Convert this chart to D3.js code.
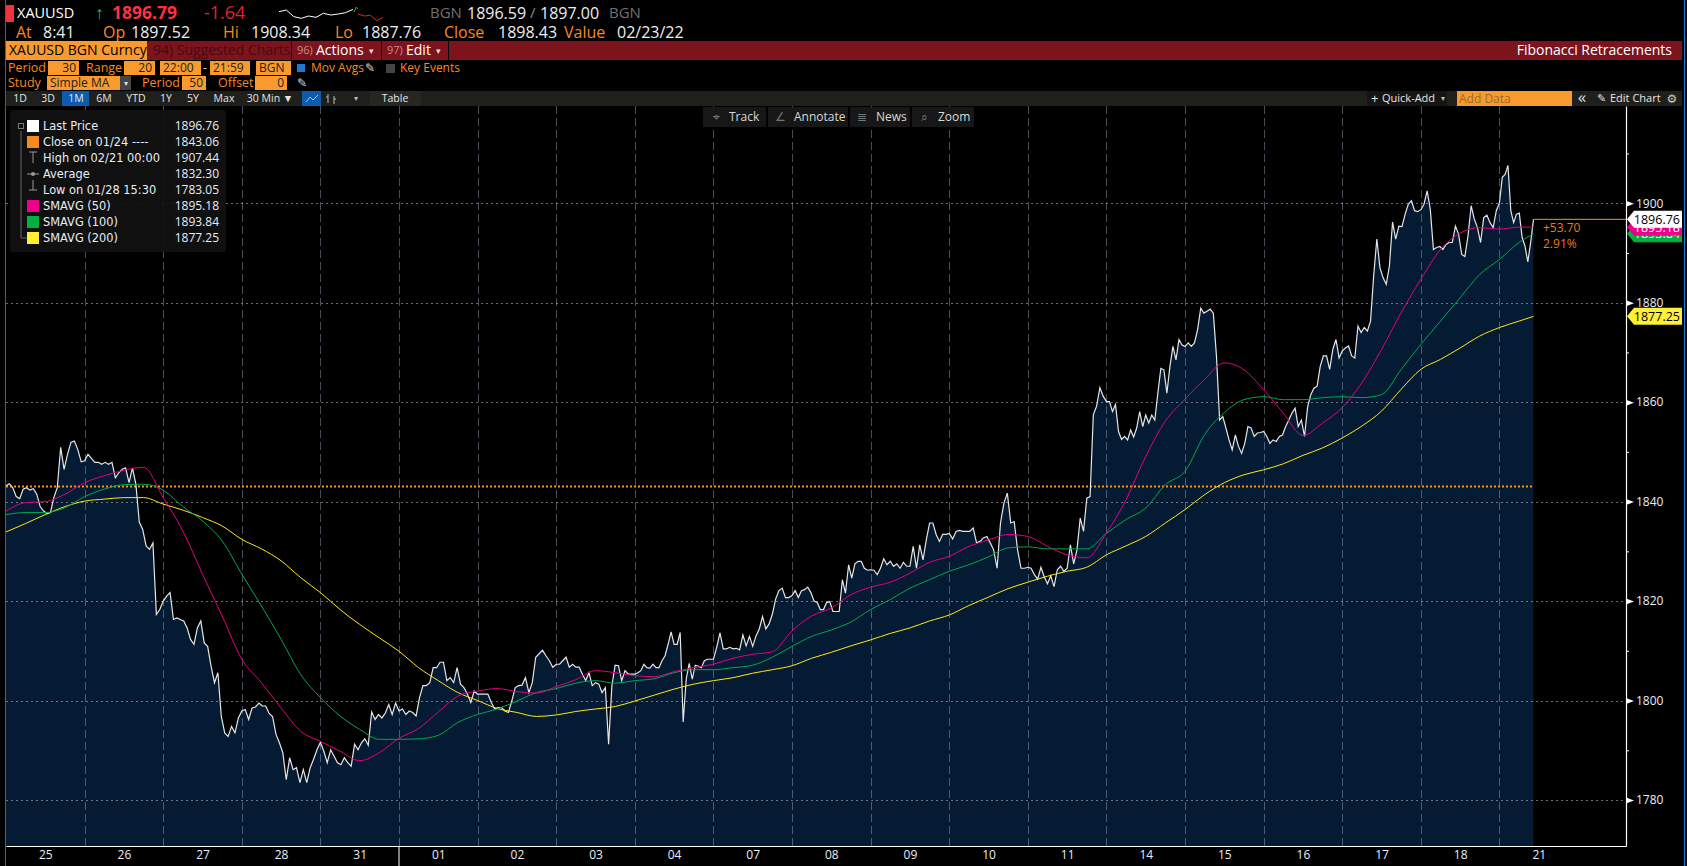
<!DOCTYPE html>
<html><head><meta charset="utf-8">
<script src="https://cdnjs.cloudflare.com/ajax/libs/d3/7.8.5/d3.min.js"></script>
<style>html,body{margin:0;padding:0;background:#000;overflow:hidden}svg{display:block}text{font-family:"Open Sans","Noto Sans",sans-serif;white-space:pre}</style>
</head><body><svg id="c" width="1687" height="866"></svg>
<script>
// ---- data: 30-minute closes, one list per trading session
const jan25=[1843.2,1843.6,1842.8,1841.0,1840.6,1842.5,1842.8,1842.3,1842.6,1841.5,1839.0,1838.1,1837.6,1837.8,1840.8,1842.8,1850.9,1846.5,1849.5,1851.9,1852.2,1850.5,1848.0];
const jan26=[1848.2,1849.5,1848.7,1847.9,1847.9,1847.5,1847.9,1847.5,1847.9,1844.8,1845.8,1846.5,1846.8,1843.8,1846.8,1843.5,1835.9,1834.4,1831.1,1830.4,1831.7,1817.3,1818.3];
const jan27=[1820.0,1821.0,1821.7,1816.3,1816.6,1816.3,1816.0,1814.6,1812.3,1811.3,1814.6,1816.0,1811.6,1810.9,1806.9,1803.6,1805.6,1796.8,1793.5,1792.8,1794.8,1793.5,1796.5];
const jan28=[1797.9,1798.2,1796.2,1798.5,1798.7,1799.5,1798.9,1798.9,1797.4,1796.8,1793.2,1791.5,1789.5,1784.1,1788.5,1786.1,1786.5,1783.5,1786.1,1783.5,1786.5,1788.2,1790.1];
const jan31=[1791.6,1789.8,1787.5,1790.1,1788.8,1787.5,1787.1,1788.5,1787.5,1786.8,1791.2,1790.1,1791.5,1792.3,1791.0,1797.7,1796.2,1797.2,1796.5,1797.5,1799.2,1797.2,1799.5];
const feb01=[1797.9,1798.3,1797.2,1797.9,1797.6,1796.9,1800.6,1803.0,1803.0,1803.6,1806.6,1806.6,1807.7,1807.7,1804.0,1804.6,1803.6,1806.6,1803.3,1802.6,1801.3,1799.6,1801.9];
const feb02=[1801.3,1801.3,1801.3,1801.3,1799.6,1798.3,1798.6,1798.6,1797.9,1797.6,1799.9,1802.6,1803.0,1803.1,1804.6,1801.6,1803.6,1808.7,1809.4,1810.1,1809.0,1808.0,1806.7];
const feb03=[1807.3,1807.3,1808,1808.7,1806.7,1807.3,1806.7,1806.7,1805.3,1804,1805.6,1803,1803.6,1803.3,1801.6,1802.6,1791.2,1803,1807.1,1807,1804,1806,1805.3,1805.3];
const feb04=[1805.3,1805.6,1806,1807.3,1806.6,1806.5,1807.3,1806.6,1806.6,1808,1809,1811.3,1813.8,1811.3,1811.3,1813.7,1795.7,1804.3,1807.5,1804.3,1807.1,1806.9,1806.6,1808,1808.3,1808.3];
const feb07=[1808.3,1810.7,1813.6,1810.4,1810.4,1810.7,1810.4,1810.5,1810.2,1813.2,1811,1812.9,1810.9,1813,1814.4,1816.9,1814.4,1815.4,1817.4,1820.4,1822.1,1822.6,1820.7,1820.7];
const feb08=[1821.1,1822.1,1820.7,1822.1,1822.3,1822.8,1821.7,1820,1819.7,1818.3,1818.3,1819.7,1819.9,1817.9,1817.9,1817.9,1824.3,1821.6,1827.3,1824.6,1827.5,1828,1828,1826.6,1826.2];
const feb09=[1826.3,1826.2,1825.3,1826.6,1828.5,1827.3,1828,1827,1827.5,1826.6,1827.8,1827,1827,1831,1826.6,1831.3,1828.3,1832.3,1835.7,1835.7,1833.4,1832,1833.4,1833.4];
const feb10=[1833.6,1832.5,1834,1834.2,1834,1834,1834,1834.7,1831.7,1832,1832.7,1833,1831.7,1830.3,1826.6,1835.7,1839.7,1841.7,1835.7,1836,1830.3,1826.6,1826.6];
const feb11=[1826.8,1826.6,1825.3,1824.4,1826.8,1824.9,1823.5,1825.1,1822.9,1826.3,1827,1826,1826.6,1831.3,1827.5,1830.3,1836.7,1834,1840.7,1841,1857.5,1859.2,1862.9,1861.2];
const feb14=[1860.1,1860.1,1858.1,1859.5,1854.1,1852.5,1853.1,1852.4,1854.4,1853,1854.8,1858.1,1855.1,1857.4,1855.8,1857.4,1856.4,1861.8,1866.8,1866.5,1861.8,1867.2,1871.2,1868.5,1872.6,1871.5];
const feb15=[1871.2,1871.9,1871.2,1871.9,1874.6,1878.9,1877.9,1878.3,1878.7,1877.9,1869.2,1856.4,1857.1,1854.8,1852.4,1850.4,1853.4,1851.1,1849.7,1851.7,1855.1,1854.8,1853.1,1853.8,1853.9];
const feb16=[1854.1,1853.1,1851.7,1852.4,1852.1,1853.1,1853.4,1855.1,1856.4,1857.8,1858.8,1855.1,1856.4,1853.1,1859.1,1861.5,1862.8,1863.2,1867.2,1869.3,1869.3,1866.6,1870.6,1872.6,1868.9];
const feb17=[1870.3,1870.9,1871.3,1869.3,1868.9,1875.3,1874,1875,1874.3,1876.3,1885.4,1892.8,1887,1885,1883.7,1887.4,1896.2,1892.8,1895.4,1895.3,1897.8,1899.8,1900.5,1898.5,1898.3];
const feb18=[1898.7,1899.8,1902.5,1898.8,1890.7,1891.1,1891.3,1890.7,1891.7,1892.1,1892.1,1895.4,1893.8,1889.7,1889.3,1893.4,1899.5,1896.8,1895.1,1892.1,1897.1,1897.6,1896.1,1895.1,1898.5];
const feb21=[1900.1,1905.2,1905.8,1907.6,1898.5,1896.1,1897.8,1898,1893.1,1891.4,1888.2,1892.1,1896.76];
const sessionLists=[jan25,jan26,jan27,jan28,jan31,feb01,feb02,feb03,feb04,feb07,feb08,feb09,feb10,feb11,feb14,feb15,feb16,feb17,feb18,feb21];
const dayLabels=["25","26","27","28","31","01","02","03","04","07","08","09","10","11","14","15","16","17","18","21"];
const lastSessionSpan=0.433;
// moving averages, one reading every quarter of a session
const sma50=[1838.1,1839.8,1840,1841.5,1843.8,1845.2,1846.3,1846.9,1840.8,1834.1,1825.4,1817,1808.3,1803.6,1798.5,1793.8,1791.8,1789.8,1787.9,1789.5,1792.4,1794.4,1797.7,1800.9,1801.9,1802.4,1801.8,1801.5,1802.8,1804.2,1806,1805.6,1805,1804.8,1805.8,1806.6,1807.3,1808.5,1809.3,1809.8,1814,1817,1818.6,1821.3,1822.8,1823.8,1825.6,1827.8,1829,1831,1832.3,1833.4,1833,1831,1829.3,1828.7,1833.7,1840.4,1849.1,1856.2,1860.6,1864.6,1867.9,1866.5,1862.5,1857.8,1853.3,1855.8,1858.9,1863.9,1870.6,1878,1884.7,1890.7,1894,1895.1,1894.8,1895.2,1895.18];
const sma100=[1837.4,1837.8,1837.8,1838.8,1841,1842.5,1843.4,1843.5,1842.3,1839,1836.1,1832.1,1825.4,1819,1812.3,1805.2,1800.6,1796.9,1794.2,1792.2,1792.2,1792.3,1793,1795.6,1797.2,1798.3,1799.9,1801.6,1802.4,1803.5,1804,1803.5,1804,1804.4,1805.6,1806.2,1806.2,1806.6,1807.1,1808.7,1810.9,1812.9,1814.2,1815.8,1818.3,1820.3,1822.6,1824.3,1826,1827.3,1828.9,1830.7,1830.9,1830.5,1830.5,1830.5,1833.6,1836.4,1838.7,1843.4,1846.1,1853.5,1857.9,1860.5,1861.1,1860.5,1860.5,1860.9,1861.1,1860.9,1861.5,1866.6,1871.6,1876.3,1881,1885.7,1888.7,1892.1,1893.84];
const sma200=[1833.9,1835.6,1837.4,1839,1840.1,1840.5,1840.8,1840.8,1839.5,1838.3,1836.8,1835.1,1832.4,1830.5,1828.1,1824.7,1821.7,1818.3,1815.3,1812.6,1809.9,1806.6,1804,1801.6,1800,1798.4,1797.6,1796.8,1797.1,1797.8,1798.3,1798.8,1799.9,1801.1,1802.3,1803.3,1804,1804.6,1805.5,1806.2,1807,1808.5,1809.7,1811,1812.2,1813.5,1814.6,1816,1817.2,1819.1,1820.8,1822.5,1823.8,1825,1826,1826.8,1829.3,1831.1,1833,1835.7,1838.4,1841.4,1843.8,1845.4,1846.4,1847.6,1849.3,1850.8,1852.8,1855.2,1858.2,1862.6,1866.6,1868.6,1870.9,1873.3,1875,1876.3,1877.25];
const smaStep=0.25;
const refClose=1843.06;
const yMajor=[1780,1800,1820,1840,1860,1880,1900];
const yMinor=[1790,1810,1830,1850,1870,1890,1910];
const sparkUp=[1899.5,1902,1892,1889.5,1893,1891,1897,1894.5,1896,1898,1903];
const sparkTick=[1899,1906,1904];
const sparkDown=[1896,1893,1894,1886,1891];
const legendRows=[["Last Price","1896.76","#ffffff"],["Close on 01/24 ----","1843.06","#f58a1f"],["High on 02/21 00:00","1907.44",null],["Average","1832.30",null],["Low on 01/28 15:30","1783.05",null],["SMAVG (50)","1895.18","#ec008c"],["SMAVG (100)","1893.84","#00b140"],["SMAVG (200)","1877.25","#fff033"]];
const rangeButtons=[["1D",20],["3D",48],["1M",76],["6M",104],["YTD",136],["1Y",166],["5Y",193],["Max",224],["30 Min ▼",270]];
const priceTags=[["1877.25",1877.25,"#fff033","#000"],["1893.84",1893.84,"#00b140","#fff"],["1895.18",1895.18,"#ec008c","#fff"],["1896.76",1896.76,"#ffffff","#000"]];

// ---- scales
const svg=d3.select("#c");
const x=d3.scaleLinear().domain([0,20.61]).range([6,1626]);
const y=d3.scaleLinear().domain([1770.75,1919.55]).range([846,106]);
const endDay=19+lastSessionSpan;
const price=sessionLists.flatMap((s,d)=>s.map((v,i)=>({t:d===19?d+lastSessionSpan*i/(s.length-1):d+i/s.length,v})));
const smaPoints=a=>a.map((v,i)=>({t:i===a.length-1?endDay:i*smaStep,v}));
const ORANGE="#f7941d",AMB="#f58a1f";
function T(px,py,s,fill,size,anchor,weight){return svg.append("text").attr("x",px).attr("y",py).attr("dy","0.35em").attr("fill",fill).attr("font-size",size).attr("text-anchor",anchor||"start").attr("font-weight",weight||400).text(s);}
function R(px,py,w,h,fill){return svg.append("rect").attr("x",px).attr("y",py).attr("width",w).attr("height",h).attr("fill",fill);}

// ---- area under the price
svg.append("path").datum(price).attr("fill","#041b33")
 .attr("d",d3.area().x(d=>x(d.t)).y0(y.range()[0]).y1(d=>y(d.v)));
// ---- grid
const days=d3.range(1,20);
svg.append("g").selectAll("line").data(days).join("line").attr("x1",d=>Math.round(x(d))+.5).attr("x2",d=>Math.round(x(d))+.5).attr("y1",106).attr("y2",846)
 .attr("stroke","#8ea0b5").attr("stroke-opacity",.5).attr("stroke-dasharray","8 4");
svg.append("g").selectAll("line").data(yMajor).join("line").attr("x1",6).attr("x2",1626).attr("y1",d=>Math.round(y(d))+.5).attr("y2",d=>Math.round(y(d))+.5)
 .attr("stroke","#a8a8a8").attr("stroke-opacity",.65).attr("stroke-dasharray","2 3");
// ---- reference line
svg.append("line").attr("x1",6).attr("x2",x(endDay)).attr("y1",y(refClose)).attr("y2",y(refClose)).attr("stroke",ORANGE).attr("stroke-width",2).attr("stroke-dasharray","2 2");
// ---- lines
const line=d3.line().x(d=>x(d.t)).y(d=>y(d.v));
svg.append("path").datum(price).attr("fill","none").attr("stroke","#e4e6e8").attr("stroke-width",1.2).attr("d",line);
const smooth=d3.line().x(d=>x(d.t)).y(d=>y(d.v)).curve(d3.curveMonotoneX);
[[sma200,"#ffe81a"],[sma100,"#00a84f"],[sma50,"#e6007e"]].forEach(([a,c])=>svg.append("path").datum(smaPoints(a)).attr("fill","none").attr("stroke",c).attr("stroke-width",1).attr("d",smooth));
// ---- change marker
svg.append("line").attr("x1",x(endDay)).attr("x2",1626).attr("y1",y(1896.76)).attr("y2",y(1896.76)).attr("stroke",ORANGE).attr("stroke-width",1);
T(1543,228,"+53.70","#e8791a",12);
T(1543,244,"2.91%","#e8791a",12);

// ---- axes
const yAxis=svg.append("g").attr("transform","translate(1626,0)").call(d3.axisRight(y).tickValues(yMajor).tickSize(0).tickPadding(10).tickFormat(d3.format("d")));
yAxis.select(".domain").attr("stroke","#fff").attr("stroke-width",1.2);
yAxis.selectAll("text").attr("fill","#e6eef8").attr("font-size",12);
yAxis.selectAll(".tick").append("path").attr("d","M0,-3L8,0L0,3Z").attr("fill","#fff");
svg.append("g").attr("transform","translate(1626,0)").call(d3.axisRight(y).tickValues(yMinor).tickSize(3).tickFormat("")).call(g=>{g.select(".domain").remove();g.selectAll("line").attr("stroke","#fff");});
const xAxis=svg.append("g").attr("transform","translate(0,846)").call(d3.axisBottom(x).tickValues(dayLabels.map((_,i)=>i+.5)).tickSize(0).tickPadding(4).tickFormat((_,i)=>dayLabels[i]));
xAxis.select(".domain").attr("stroke","#fff").attr("stroke-width",1.2);
xAxis.selectAll("text").attr("fill","#e6eef8").attr("font-size",12);
svg.append("line").attr("x1",x(5)).attr("x2",x(5)).attr("y1",846).attr("y2",866).attr("stroke","#fff");

// ---- price tags
priceTags.forEach(([s,v,bg,fg])=>{const c=y(v);
 svg.append("path").attr("d",d3.line()([[1627,c],[1634,c-8.5],[1682,c-8.5],[1682,c+8.5],[1634,c+8.5]])+"Z").attr("fill",bg);
 T(1680,c,s,fg,12.5,"end");});

// ---- legend panel
svg.append("rect").attr("x",10).attr("y",110).attr("width",216).attr("height",142).attr("rx",3).attr("fill","#111").attr("fill-opacity",.92);
svg.append("path").attr("d","M21,131V238H27").attr("fill","none").attr("stroke","#666");
svg.append("rect").attr("x",18.5).attr("y",123.5).attr("width",5).attr("height",5).attr("fill","#111").attr("stroke","#777");
legendRows.forEach(([a,b,c],i)=>{const py=126+16*i;
 T(43,py,a,"#e6eef8",11.4).style("font-family","'DejaVu Sans'");T(219,py,b,"#e6eef8",12,"end");
 if(c)R(27,py-6,12,12,c);});
svg.append("path").attr("d","M29,152H37M33,152V163M27,174H39M29,190H37M33,180V190").attr("stroke","#999").attr("fill","none");
svg.append("circle").attr("cx",33).attr("cy",174).attr("r",2).attr("fill","#999");

// ---- terminal header
svg.append("line").attr("x1",5.5).attr("x2",5.5).attr("y1",0).attr("y2",866).attr("stroke","#1c6db5");
svg.append("line").attr("x1",1684.5).attr("x2",1684.5).attr("y1",0).attr("y2",866).attr("stroke","#1c7fd6");
R(6,5,8,17,"#f0323c");
T(17,13,"XAUUSD","#fff",14.5);
T(95,13,"↑","#18c050",18);
T(112,13,"1896.79","#ff3040",17.5,"start",700);
T(204,13,"-1.64","#e02030",18);
T(430,13,"BGN","#707070",15);
T(467,13,"1896.59","#eee",16);T(530,13,"/","#888",15);T(540,13,"1897.00","#eee",16);T(609,13,"BGN","#707070",15);
const spark=d3.scaleLinear().domain([1887,1908]).range([20,6]);
const sl=(a,x0,x1,c)=>svg.append("path").attr("fill","none").attr("stroke",c).attr("d",d3.line().x((_,i)=>x0+(x1-x0)*i/(a.length-1)).y(d=>spark(d))(a));
sl(sparkUp,279,353,"#fff");sl(sparkTick,354,358,"#18c050");sl(sparkDown,358,383,"#e02030");
[["At",16,AMB],["8:41",43,"#eee"],["Op",103,AMB],["1897.52",131,"#eee"],["Hi",223,AMB],["1908.34",251,"#eee"],["Lo",335,AMB],["1887.76",362,"#eee"],["Close",444,AMB],["1898.43",498,"#eee"],["Value",564,AMB],["02/23/22",617,"#eee"]].forEach(([s,px,c])=>T(px,32,s,c,16));
R(6,41,1676,19,"#7c131d");
R(6,41,141,19,"#f99a2e");T(9,50.5,"XAUUSD BGN Curncy","#000",14);
T(153,50.5,"94) Suggested Charts","#4a0a10",14);
R(292,41,89,19,"#7c131d");T(297,50.5,"96)","#c98a90",11);T(316,50.5,"Actions","#fff",14);T(369,50.5,"▾","#ddd",9);
svg.append("path").attr("d","M291.5,41V60M381.5,41V60M448.5,41V60").attr("stroke","#000");
T(387,50.5,"97)","#c98a90",11);T(406,50.5,"Edit","#fff",14);T(436,50.5,"▾","#ddd",9);
T(1672,50,"Fibonacci Retracements","#fff",14,"end");
// control rows
const box=(a,b,py,s,anchor)=>{R(a,py-7,b-a,14,"#f99a2e");anchor==="end"?T(b-3,py,s,"#222",12,"end"):T(a+3,py,s,"#222",12);};
T(8,68,"Period",AMB,12.5);box(48,79,68,"30","end");T(86,68,"Range",AMB,12.5);box(124,155,68,"20","end");
box(160,201,68,"22:00");T(203,68,"-","#ddd",12);box(210,250,68,"21:59");box(256,291,68,"BGN");
R(297,64,8,8,"#1f78d1");T(311,68,"Mov Avgs",AMB,12);T(365,68,"✎","#ddd",12);R(386,64,9,9,"#444");T(400,68,"Key Events",AMB,12);
T(8,83,"Study",AMB,12.5);box(47,120,83,"Simple MA");R(120,76,11,14,"#444");T(125.5,83,"▾","#ddd",8,"middle");
T(142,83,"Period",AMB,12.5);box(182,206,83,"50","end");T(218,83,"Offset",AMB,12.5);box(255,287,83,"0","end");T(297,83,"✎","#ddd",12);
// toolbar
R(6,91,1676,15,"#1f1f1b");
R(62,91,27,15,"#0b5cad");R(302,91,19,15,"#0b5cad");
rangeButtons.forEach(([s,px])=>T(px,98.5,s,"#e6e6e6",10.5,"middle"));
svg.append("path").attr("d","M306,102L310,97L313,100L318,95").attr("stroke","#9cc8ff").attr("fill","none");
svg.append("path").attr("d","M328,94V103M326,97H328M334,96V104M334,99H336").attr("stroke","#bbb").attr("fill","none");
T(356,98.5,"▾","#bbb",8,"middle");
R(370,91,51,15,"#262622");T(395,98.5,"Table","#e6e6e6",10.5,"middle");
R(1367,91,80,15,"#151513");T(1371,98.5,"+","#e6e6e6",13);T(1382,98.5,"Quick-Add","#e6e6e6",11);T(1441,98.5,"▾","#bbb",8);
R(1457,91,115,15,"#f99a2e");T(1459,98.5,"Add Data","#9a6a30",12);
T(1582,97.5,"«","#ddd",17,"middle");T(1597,98.5,"✎","#ddd",11);T(1610,98.5,"Edit Chart","#e6e6e6",11);T(1672,98.5,"⚙","#ccc",12,"middle").style("font-family","'DejaVu Sans'");
// floating tools
[[703,63],[768,80],[850,60],[912,62]].forEach(([a,w])=>R(a,107,w,20,"#171717"));
[["Track",729],["Annotate",794],["News",876],["Zoom",938]].forEach(([s,px])=>T(px,117,s,"#d8d8d8",12));
T(716,117,"⌖","#777",12,"middle");T(780,117,"∠","#777",12,"middle");T(862,117,"≣","#777",12,"middle");T(924,117,"⌕","#777",12,"middle");
</script></body></html>
